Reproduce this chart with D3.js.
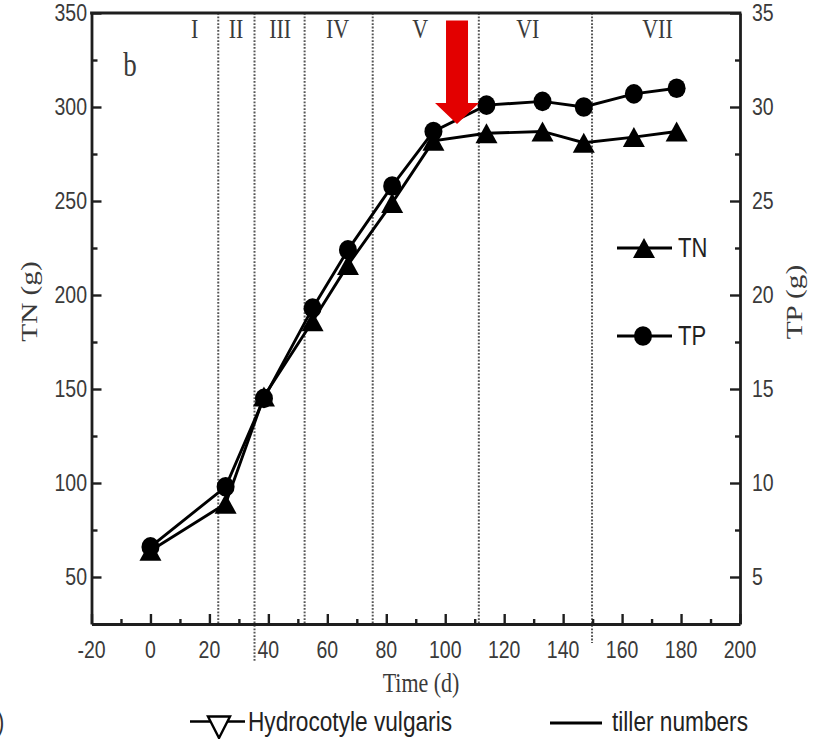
<!DOCTYPE html>
<html>
<head>
<meta charset="utf-8">
<script src="https://cdn.jsdelivr.net/npm/d3@7"></script>
<style>
  html, body { margin: 0; padding: 0; background: #fff; }
  svg { display: block; }
</style>
</head>
<body>
<svg id="chart" width="816" height="739"></svg>
<script>
// Sampling days (d)
const days = [0, 25.5, 38.5, 55, 67, 82, 96, 114, 133, 147, 164, 178.5];
// Total nitrogen, left axis (g)
const tnValues = [64, 89, 146, 186, 216, 249, 282, 286, 287, 281, 284, 287];
// Total phosphorus, right axis (g)
const tpValues = [6.6, 9.8, 14.5, 19.3, 22.4, 25.8, 28.7, 30.1, 30.3, 30.0, 30.7, 31.0];

// Growth phase boundaries (d) and phase labels
const phaseBounds = [23, 35.3, 52.3, 75.4, 111.4, 149.8];
const phaseLabels = ["I", "II", "III", "IV", "V", "VI", "VII"];
const phaseLabelDays = [15, 29, 44, 63.5, 91.5, 128, 172];

// Axis ticks
const xTicks = d3.range(-20, 201, 20);
const xMinor = d3.range(-10, 200, 20);
const tnTicks = d3.range(50, 351, 50);
const tnMinor = d3.range(75, 350, 50);
const tpTicks = d3.range(5, 36, 5);
const tpMinor = d3.range(7.5, 35, 5);

// Arrow marking the turning point (day, from TN value, to TN value)
const arrowDay = 104;
const arrowFrom = 346;
const arrowTo = 291;

const SY = 1.22;          // vertical stretch of the lettering
const INK = "#1e1e1e";
const TXT = "#3a3a3a";
const SANS = "'Liberation Sans', Arial, sans-serif";
const SERIF = "'Liberation Serif', 'Times New Roman', serif";

const svg = d3.select("#chart");

const x = d3.scaleLinear().domain([-20, 200]).range([91.5, 740]);
const yL = d3.scaleLinear().domain([25, 350]).range([624, 13]);
const yR = d3.scaleLinear().domain([2.5, 35]).range([624, 13]);

// Stretched text helper
function label(g, str, tx, ty, opts) {
  const o = Object.assign({ size: 20, family: SANS, anchor: "start", rotate: 0, dy: "0.35em", fill: TXT }, opts || {});
  const t = g.append("text")
    .attr("transform", `translate(${tx},${ty}) scale(1,${SY})` + (o.rotate ? ` rotate(${o.rotate})` : ""))
    .attr("dy", o.dy)
    .attr("text-anchor", o.anchor)
    .attr("font-family", o.family)
    .attr("font-size", o.size)
    .attr("fill", o.fill)
    .text(str);
  if (o.length) t.attr("textLength", o.length).attr("lengthAdjust", "spacingAndGlyphs");
  return t;
}

// Phase separators
const phases = svg.append("g");
phases.selectAll("line").data(phaseBounds).join("line")
  .attr("x1", d => x(d)).attr("x2", d => x(d))
  .attr("y1", yL(350))
  .attr("y2", (d, i) => i === 1 ? 662 : (i === 5 ? 643 : yL(25)))
  .attr("stroke", "#555").attr("stroke-width", 2)
  .attr("stroke-dasharray", "1.8,1.6");

phaseLabels.forEach((p, i) => {
  label(phases, p, x(phaseLabelDays[i]), 29, { size: 22, family: SERIF, anchor: "middle", fill: "#3a3a3a" });
});

// Axes
function styleAxis(g) {
  g.select(".domain").attr("stroke", INK).attr("stroke-width", 2.8);
  g.selectAll(".tick line").attr("stroke", INK).attr("stroke-width", 2.4);
}
function styleMinor(g) {
  g.select(".domain").remove();
  g.selectAll(".tick line").attr("stroke", INK).attr("stroke-width", 2.4);
}

svg.append("g").attr("transform", `translate(0,${yL(25)})`)
  .call(d3.axisBottom(x).tickValues(xTicks).tickSizeInner(-10).tickSizeOuter(0).tickFormat(""))
  .call(styleAxis);
svg.append("g").attr("transform", `translate(0,${yL(25)})`)
  .call(d3.axisBottom(x).tickValues(xMinor).tickSizeInner(-5).tickSizeOuter(0).tickFormat(""))
  .call(styleMinor);
xTicks.forEach(v => label(svg, String(v), x(v), 650, { size: 19.5, anchor: "middle" }));

svg.append("g").attr("transform", `translate(${x(-20)},0)`)
  .call(d3.axisLeft(yL).tickValues(tnTicks).tickSizeInner(-10).tickSizeOuter(0).tickFormat(""))
  .call(styleAxis);
svg.append("g").attr("transform", `translate(${x(-20)},0)`)
  .call(d3.axisLeft(yL).tickValues(tnMinor).tickSizeInner(-6).tickSizeOuter(0).tickFormat(""))
  .call(styleMinor);
tnTicks.forEach(v => label(svg, String(v), x(-20) - 4.5, yL(v), { size: 19.5, anchor: "end" }));

svg.append("g").attr("transform", `translate(${x(200)},0)`)
  .call(d3.axisRight(yR).tickValues(tpTicks).tickSizeInner(-10).tickSizeOuter(0).tickFormat(""))
  .call(styleAxis);
svg.append("g").attr("transform", `translate(${x(200)},0)`)
  .call(d3.axisRight(yR).tickValues(tpMinor).tickSizeInner(-5).tickSizeOuter(0).tickFormat(""))
  .call(styleMinor);
tpTicks.forEach(v => label(svg, String(v), x(200) + 12, yR(v), { size: 19.5, anchor: "start" }));

// Top frame
svg.append("line")
  .attr("x1", x(-20) - 1.4).attr("x2", x(200) + 1.4)
  .attr("y1", yL(350)).attr("y2", yL(350))
  .attr("stroke", INK).attr("stroke-width", 2.8);

// Axis titles
label(svg, "TN (g)", 37, 301.5, { size: 24, family: SERIF, anchor: "middle", rotate: -90, dy: 0 });
label(svg, "TP (g)", 802, 302, { size: 24, family: SERIF, anchor: "middle", rotate: -90, dy: 0 });
label(svg, "Time (d)", 421, 692, { size: 22, family: SERIF, anchor: "middle", dy: 0 });
label(svg, "b", 130, 76, { size: 27, family: SERIF, anchor: "middle", dy: 0 });

// Markers
const TRI_W = 22, TRI_H = 20;
const triPath = `M0,${-TRI_H / 2}L${TRI_W / 2},${TRI_H / 2}L${-TRI_W / 2},${TRI_H / 2}Z`;

const line = (yScale, vals) => d3.line().x((d, i) => x(days[i])).y(d => yScale(d))(vals);

svg.append("path").attr("d", line(yL, tnValues))
  .attr("fill", "none").attr("stroke", "#000").attr("stroke-width", 2.9);
svg.append("path").attr("d", line(yR, tpValues))
  .attr("fill", "none").attr("stroke", "#000").attr("stroke-width", 2.9);

svg.append("g").selectAll("path").data(tnValues).join("path")
  .attr("transform", (d, i) => `translate(${x(days[i])},${yL(d)})`)
  .attr("d", triPath).attr("fill", "#000");
svg.append("g").selectAll("ellipse").data(tpValues).join("ellipse")
  .attr("cx", (d, i) => x(days[i])).attr("cy", d => yR(d))
  .attr("rx", 9).attr("ry", 9.8).attr("fill", "#000");

// Inner legend
const leg = svg.append("g");
[["TN", 248], ["TP", 336]].forEach(([name, ly]) => {
  leg.append("line").attr("x1", 617).attr("x2", 672).attr("y1", ly).attr("y2", ly)
    .attr("stroke", "#000").attr("stroke-width", 2.8);
  if (name === "TN") {
    leg.append("path").attr("transform", `translate(644,${ly})`).attr("d", triPath).attr("fill", "#000");
  } else {
    leg.append("ellipse").attr("cx", 643).attr("cy", ly).attr("rx", 9).attr("ry", 9.8).attr("fill", "#000");
  }
  label(leg, name, 678, ly, { size: 22, anchor: "start", fill: "#222" });
});

// Red arrow
const ax = x(arrowDay), aTop = yL(arrowFrom), aTip = yL(arrowTo);
const shaftW = 22, headW = 44, headH = 21;
svg.append("path")
  .attr("d", `M${ax - shaftW / 2},${aTop}H${ax + shaftW / 2}V${aTip - headH}H${ax + headW / 2}L${ax},${aTip}L${ax - headW / 2},${aTip - headH}H${ax - shaftW / 2}Z`)
  .attr("fill", "#e30000");

// Bottom legend
const bl = svg.append("g");
bl.append("line").attr("x1", 190).attr("x2", 245).attr("y1", 721.5).attr("y2", 721.5)
  .attr("stroke", "#000").attr("stroke-width", 2.6);
bl.append("path").attr("d", "M208,716.5L230,716.5L219,738Z")
  .attr("fill", "#fff").attr("stroke", "#000").attr("stroke-width", 2.4);
label(bl, "Hydrocotyle vulgaris", 248, 722, { size: 22, anchor: "start", length: 204, fill: "#222" });
bl.append("line").attr("x1", 550).attr("x2", 602).attr("y1", 723).attr("y2", 723)
  .attr("stroke", "#000").attr("stroke-width", 3.2);
label(bl, "tiller numbers", 612, 722, { size: 22, anchor: "start", length: 136, fill: "#222" });
label(bl, ")", -3, 722, { size: 22, anchor: "start", fill: "#333" });
</script>
</body>
</html>
